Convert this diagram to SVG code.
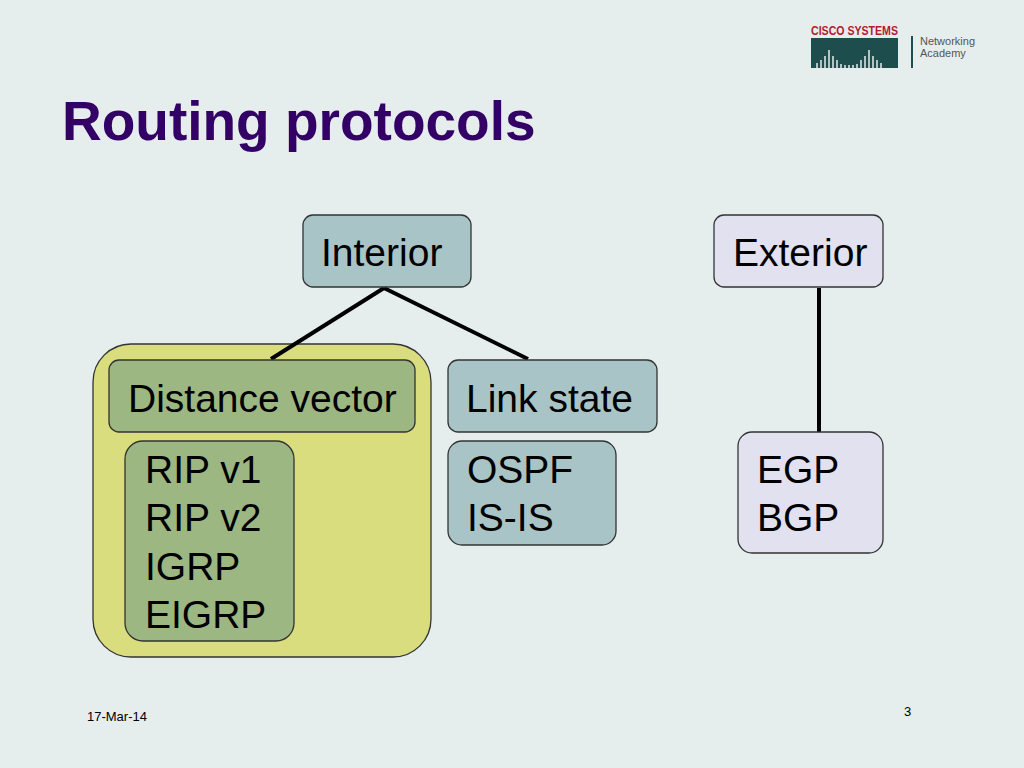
<svg xmlns="http://www.w3.org/2000/svg" width="1024" height="768" viewBox="0 0 1024 768">
<style>
text{font-family:"Liberation Sans",Arial,sans-serif}
.lbl{font-size:39px;fill:#000}
.blue{fill:#a9c4c6;stroke:#333;stroke-width:1.3}
.grn{fill:#9db783;stroke:#333;stroke-width:1.3}
.lav{fill:#e1e1ef;stroke:#333;stroke-width:1.3}
.ln{stroke:#000;stroke-width:4}
</style>
<rect width="1024" height="768" fill="#e6eded"/>
<g id="logo">
<rect x="811" y="38" width="87" height="30" fill="#1d4d4d"/>
<text x="811" y="35" font-size="13" font-weight="bold" fill="#b01c2e" textLength="87" lengthAdjust="spacingAndGlyphs">CISCO SYSTEMS</text>
<g stroke="#e6eded" stroke-width="1.5">
<line x1="817" y1="68" x2="817" y2="63"/><line x1="821" y1="68" x2="821" y2="60"/><line x1="825" y1="68" x2="825" y2="56"/><line x1="829" y1="68" x2="829" y2="50"/><line x1="833" y1="68" x2="833" y2="56"/><line x1="837" y1="68" x2="837" y2="60"/><line x1="841" y1="68" x2="841" y2="64"/><line x1="845" y1="68" x2="845" y2="65"/><line x1="849" y1="68" x2="849" y2="65"/><line x1="853" y1="68" x2="853" y2="65"/><line x1="857" y1="68" x2="857" y2="64"/><line x1="861" y1="68" x2="861" y2="60"/><line x1="865" y1="68" x2="865" y2="56"/><line x1="869" y1="68" x2="869" y2="50"/><line x1="873" y1="68" x2="873" y2="56"/><line x1="877" y1="68" x2="877" y2="60"/><line x1="881" y1="68" x2="881" y2="63"/>
</g>
<rect x="911" y="36" width="2" height="32" fill="#1d4d4d"/>
<text x="920" y="45" font-size="11" fill="#555">Networking</text>
<text x="920" y="57" font-size="11" fill="#555">Academy</text>
</g>
<text x="62" y="140" font-size="55" font-weight="bold" fill="#330066">Routing protocols</text>
<g id="dv-group"><rect x="93" y="344" width="338" height="313" rx="38" fill="#d9dd7e" stroke="#333" stroke-width="1.3"/></g>
<g id="connectors">
<line class="ln" x1="384" y1="288" x2="271" y2="359"/>
<line class="ln" x1="384" y1="288" x2="528" y2="359"/>
<line class="ln" x1="819" y1="288" x2="819" y2="432"/>
</g>
<g id="interior"><rect class="blue" x="303" y="215" width="168" height="72" rx="10"/><text class="lbl" x="321" y="266">Interior</text></g>
<g id="exterior"><rect class="lav" x="714" y="215" width="169" height="72" rx="10"/><text class="lbl" x="733" y="266">Exterior</text></g>
<g id="distance-vector"><rect class="grn" x="109" y="360" width="306" height="72" rx="10"/><text class="lbl" x="128" y="412">Distance vector</text></g>
<g id="link-state"><rect class="blue" x="448" y="360" width="209" height="72" rx="10"/><text class="lbl" x="466" y="412">Link state</text></g>
<g id="rip"><rect class="grn" x="125" y="441" width="169" height="200" rx="18"/>
<text class="lbl" x="145" y="483">RIP v1</text><text class="lbl" x="145" y="531">RIP v2</text><text class="lbl" x="145" y="580">IGRP</text><text class="lbl" x="145" y="628">EIGRP</text></g>
<g id="ospf"><rect class="blue" x="448" y="441" width="168" height="104" rx="14"/>
<text class="lbl" x="467" y="483">OSPF</text><text class="lbl" x="467" y="531">IS-IS</text></g>
<g id="egp"><rect class="lav" x="738" y="432" width="145" height="121" rx="14"/>
<text class="lbl" x="757" y="483">EGP</text><text class="lbl" x="757" y="531">BGP</text></g>
<text x="87" y="721" font-size="13" fill="#000">17-Mar-14</text>
<text x="904" y="716" font-size="13" fill="#000">3</text>
</svg>
